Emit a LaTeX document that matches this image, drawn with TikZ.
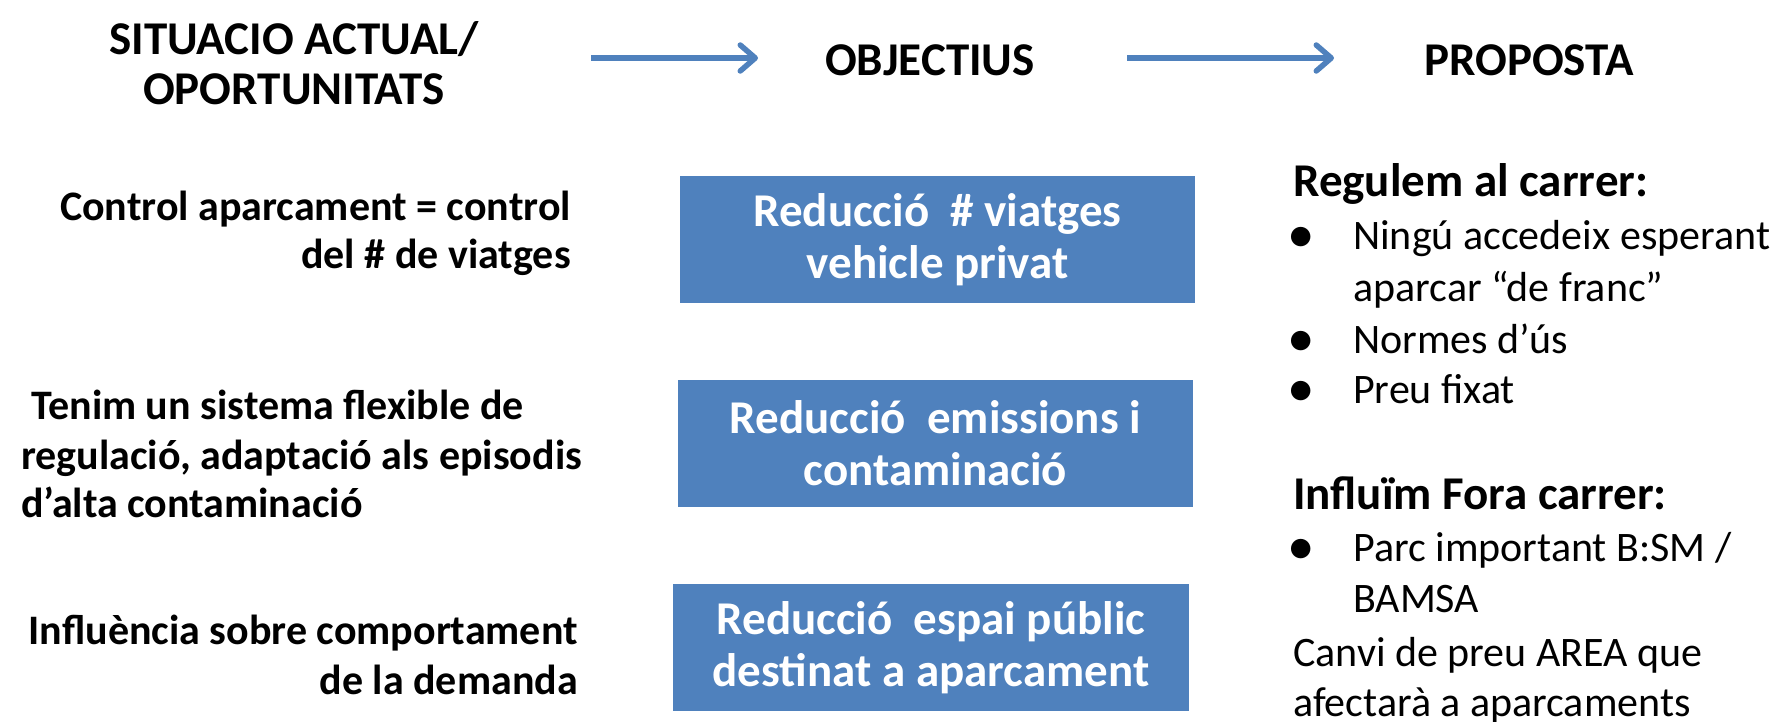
\documentclass[tikz,border=0pt]{standalone}
\usepackage{fontspec}
\setmainfont{Carlito}
\usetikzlibrary{arrows.meta}
\definecolor{boxblue}{RGB}{79,129,189}
\begin{document}
\begin{tikzpicture}[x=1pt,y=-1pt,
  hdr/.style={font=\bfseries\fontsize{47}{50}\selectfont, inner sep=0pt},
  lefttxt/.style={font=\bfseries\fontsize{42}{48}\selectfont, inner sep=0pt},
  rhead/.style={font=\bfseries\fontsize{47}{51}\selectfont, inner sep=0pt, anchor=base west},
  rtxt/.style={font=\fontsize{42}{51}\selectfont, inner sep=0pt, anchor=base west},
  bul/.style={font=\fontsize{55}{60}\selectfont, inner sep=0pt, anchor=base},
  objbox/.style={fill=boxblue, text=white, font=\bfseries\fontsize{47}{52}\selectfont, align=center, inner sep=0pt},
  flow/.style={draw=boxblue, line width=5.5pt, line join=round, -{Straight Barb[length=15pt,width=26pt,line join=round,line cap=round]}}
]
\useasboundingbox (0,0) rectangle (1789,721);
% headers
\node[hdr, anchor=base] (h1a) at (294,54) {SITUACIO ACTUAL/};
\node[hdr, anchor=base] (h1b) at (294,104) {OPORTUNITATS};
\node[hdr, anchor=base] (h2) at (930,75) {OBJECTIUS};
\node[hdr, anchor=base] (h3) at (1529,75) {PROPOSTA};
\coordinate (a1s) at (591,58);
\coordinate (a1e) at (758,58);
\coordinate (a2s) at (1127,58);
\coordinate (a2e) at (1334,58);
\draw[flow] (a1s) -- (a1e);
\draw[flow] (a2s) -- (a2e);
% left column
\node[lefttxt, anchor=base east] (l1a) at (571,220) {Control aparcament = control};
\node[lefttxt, anchor=base east] (l1b) at (571,268) {del \# de viatges};
\node[lefttxt, anchor=base west] (l2a) at (31,419) {Tenim un sistema flexible de};
\node[lefttxt, anchor=base west] (l2b) at (21,469) {regulació, adaptació als episodis};
\node[lefttxt, anchor=base west] (l2c) at (21,517) {d’alta contaminació};
\node[lefttxt, anchor=base east] (l3a) at (578,644) {Influència sobre comportament};
\node[lefttxt, anchor=base east] (l3b) at (578,694) {de la demanda};
% objective boxes
\fill[boxblue] (680,176) rectangle (1195,303);
\fill[boxblue] (678,380) rectangle (1193,507);
\fill[boxblue] (673,584) rectangle (1189,711);
\node[objbox] (b1) at (937.5,239.5) {Reducció\ \ \# viatges\\vehicle privat};
\node[objbox] (b2) at (935.5,443.5) {Reducció\ \ emissions i\\contaminació};
\node[objbox] (b3) at (931,647.5) {Reducció\ \ espai públic\\destinat a aparcament};
% right column
\node[rhead] (r1) at (1293,196) {Regulem al carrer:};
\node[bul] (r1b1) at (1301,252) {\smash{•}};
\node[rtxt] (r1t1) at (1353,249) {Ningú accedeix esperant};
\node[rtxt] (r1t1b) at (1353,301) {aparcar “de franc”};
\node[bul] (r1b2) at (1301,356) {\smash{•}};
\node[rtxt] (r1t2) at (1353,353) {Normes d’ús};
\node[bul] (r1b3) at (1301,406) {\smash{•}};
\node[rtxt] (r1t3) at (1353,403) {Preu fixat};
\node[rhead] (r2) at (1293,509) {Influïm Fora carrer:};
\node[bul] (r2b1) at (1301,564) {\smash{•}};
\node[rtxt] (r2t1) at (1353,561) {Parc important B:SM /};
\node[rtxt] (r2t1b) at (1353,612) {BAMSA};
\node[rtxt] (r2t2) at (1293,666) {Canvi de preu AREA que};
\node[rtxt] (r2t3) at (1293,716) {afectarà a aparcaments};
\end{tikzpicture}
\end{document}
